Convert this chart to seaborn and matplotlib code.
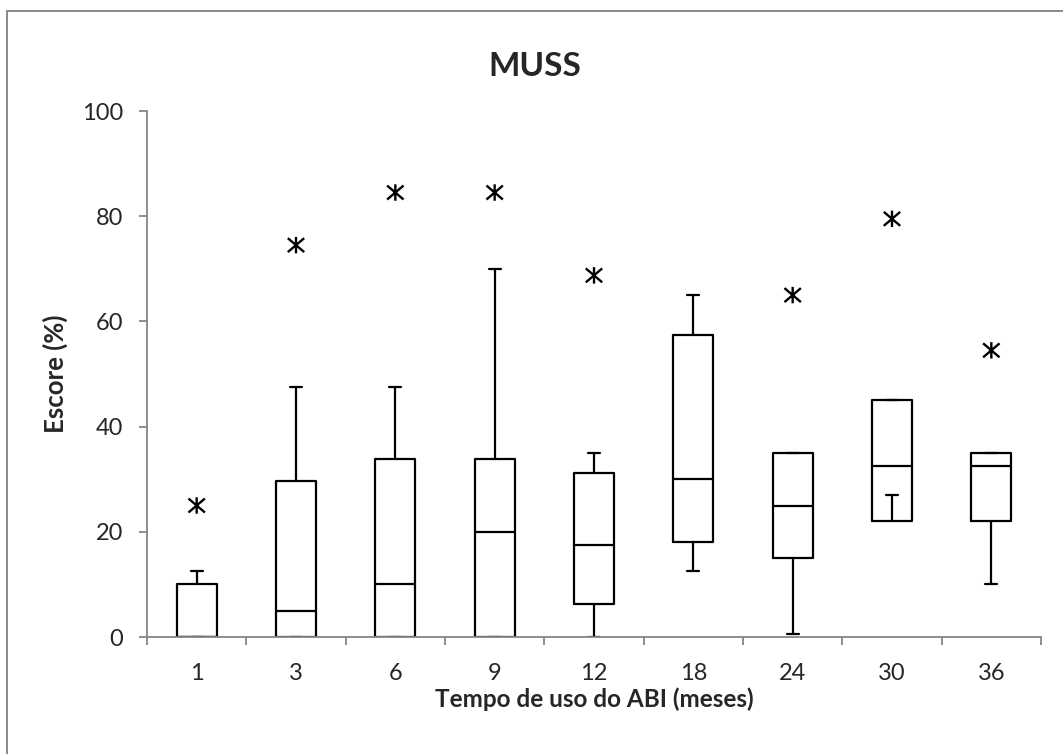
import matplotlib
matplotlib.use('Agg')
import matplotlib.pyplot as plt
from matplotlib.path import Path
from matplotlib.patches import Rectangle
import seaborn as sns
import pandas as pd

# data (Escore %, per months of ABI use)
months = ['1', '3', '6', '9', '12', '18', '24', '30', '36']
q1 = [0, 0, 0, 0, 6.2, 18.0, 15.0, 22.0, 22.0]
median = [0, 5, 10, 20, 17.5, 30.0, 25.0, 32.5, 32.5]
q3 = [10, 29.75, 33.75, 33.75, 31.25, 57.5, 35.0, 45.0, 35.0]
whisk_lo = [0, 0, 0, 0, 0, 12.5, 0.5, 27.0, 10.0]
whisk_hi = [12.5, 47.5, 47.5, 70.0, 35.0, 65.0, 35.0, 45.0, 35.0]
outliers = [25.0, 74.5, 84.5, 84.5, 68.75, None, 65.0, 79.5, 54.5]

sns.set_style('white')
plt.rcParams['font.family'] = ['Lato', 'DejaVu Sans']

fig = plt.figure(figsize=(10.63, 7.54), dpi=100)
ax = fig.add_axes([147 / 1063, 117 / 754, 894 / 1063, 526 / 754])

stats = []
for i, m in enumerate(months):
    stats.append(dict(label=m, q1=q1[i], med=median[i], q3=q3[i],
                      whislo=whisk_lo[i], whishi=whisk_hi[i], fliers=[]))

black = dict(color='black', linewidth=1.6)
ax.bxp(stats, positions=range(len(months)), widths=0.4, capwidths=0.12,
       showfliers=False, boxprops=black, whiskerprops=black,
       capprops=black, medianprops=black)

# outlier stars (X with a short vertical stroke, like Excel's star marker)
star = Path([(0, -1), (0, 1), (-1, -0.85), (1, 0.85), (-1, 0.85), (1, -0.85)],
            [Path.MOVETO, Path.LINETO, Path.MOVETO, Path.LINETO, Path.MOVETO, Path.LINETO])
out = pd.DataFrame({'pos': range(len(months)), 'val': outliers}).dropna()
sns.scatterplot(data=out, x='pos', y='val', marker=star, s=140, facecolor='none',
                edgecolor='black', linewidth=1.7, ax=ax, legend=False, zorder=5)

ax.set_xlim(-0.5, len(months) - 0.5)
ax.set_ylim(0, 100)
ax.set_yticks(range(0, 101, 20))
ax.set_xticks(range(len(months)))
ax.set_xticklabels(months)
ax.set_xticks([i + 0.5 for i in range(-1, len(months))], minor=True)

gray = '#868686'
for s in ['top', 'right']:
    ax.spines[s].set_visible(False)
for s in ['left', 'bottom']:
    ax.spines[s].set_color(gray)
    ax.spines[s].set_linewidth(1.3)
ax.tick_params(axis='x', which='major', bottom=True, length=0, pad=19, labelsize=17)
ax.tick_params(axis='x', which='minor', bottom=True, length=6, width=1.3, color=gray, direction='out')
ax.tick_params(axis='y', left=True, length=6, width=1.3, color=gray, direction='out', pad=11, labelsize=17)
ax.set_xlabel('Tempo de uso do ABI (meses)', fontsize=17.5, fontweight='bold', labelpad=2)
ax.set_ylabel('Escore (%)', fontsize=18.5, fontweight='bold', labelpad=10)
fig.text(535 / 1063, 1 - 66 / 754, 'MUSS', ha='center', va='center',
         fontsize=24, fontweight='bold')

# chart-area frame
fig.patches.append(Rectangle((7 / 1063, -0.1), 1.2, 1.1 - 10.5 / 754, transform=fig.transFigure,
                             fill=False, edgecolor='#8a8a8a', linewidth=1.4))

fig.savefig('out.png', dpi=100)
